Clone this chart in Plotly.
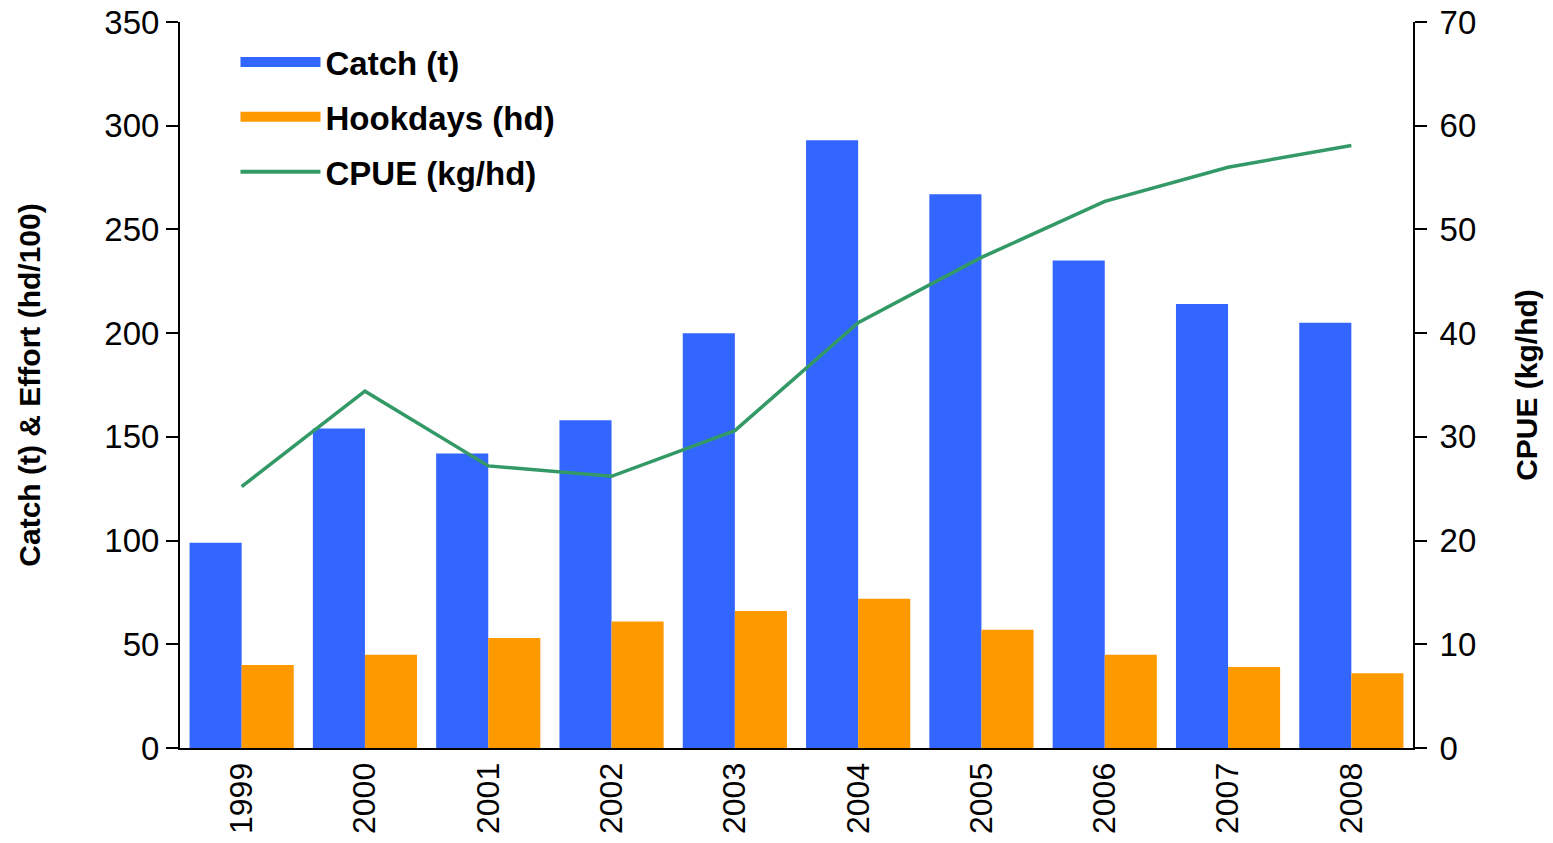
import plotly.graph_objects as go

years = ["1999", "2000", "2001", "2002", "2003", "2004", "2005", "2006", "2007", "2008"]
catch_t = [99, 154, 142, 158, 200, 293, 267, 235, 214, 205]
hookdays = [40, 45, 53, 61, 66, 72, 57, 45, 39, 36]
cpue = [25.2, 34.4, 27.2, 26.2, 30.6, 41.0, 47.3, 52.7, 56.0, 58.1]

FONT = "Liberation Sans, Arial, sans-serif"
C_CATCH = "#3366FF"
C_HOOK = "#FF9900"
C_CPUE = "#339966"

fig = go.Figure()
fig.add_trace(go.Bar(x=years, y=catch_t, name="Catch (t)", showlegend=False,
                     marker=dict(color=C_CATCH, line=dict(width=0))))
fig.add_trace(go.Bar(x=years, y=hookdays, name="Hookdays (hd)", showlegend=False,
                     marker=dict(color=C_HOOK, line=dict(width=0))))
fig.add_trace(go.Scatter(x=years, y=cpue, name="CPUE (kg/hd)", mode="lines", showlegend=False,
                         line=dict(color=C_CPUE, width=3.5), yaxis="y2"))

# legend entries (wide rectangles like the original)
fig.add_trace(go.Scatter(x=[None], y=[None], mode="lines", name="Catch (t)", legendgroup="a",
                         line=dict(color=C_CATCH, width=24)))
fig.add_trace(go.Scatter(x=[None], y=[None], mode="lines", name="Hookdays (hd)", legendgroup="b",
                         line=dict(color=C_HOOK, width=24)))
fig.add_trace(go.Scatter(x=[None], y=[None], mode="lines", name="CPUE (kg/hd)", legendgroup="c",
                         line=dict(color=C_CPUE, width=4)))

fig.update_layout(
    width=1553, height=843,
    margin=dict(l=180, r=140, t=22, b=95),
    plot_bgcolor="white", paper_bgcolor="white",
    font=dict(family=FONT, size=33, color="black"),
    barmode="group", bargap=0.155, bargroupgap=0,
    showlegend=True,
    legend=dict(x=0.045, y=0.9835, xanchor="left", yanchor="top",
                bgcolor="rgba(0,0,0,0)", font=dict(family=FONT, size=33, color="black", weight="bold"),
                tracegroupgap=9, itemwidth=80),
    xaxis=dict(type="category", showline=True, linecolor="black", linewidth=2, automargin=False,
               ticks="", tickangle=-90, tickfont=dict(size=32), showgrid=False),
    yaxis=dict(range=[0, 350], dtick=50, showline=True, linecolor="black", linewidth=2, automargin=False,
               ticks="outside", ticklen=12, tickwidth=2, tickcolor="black", showgrid=False, zeroline=False,
               ticklabeloverflow="allow",
               title=dict(text="Catch (t) & Effort (hd/100)", font=dict(size=30, weight="bold"), standoff=55),
               tickfont=dict(size=33)),
    yaxis2=dict(range=[0, 70], dtick=10, overlaying="y", side="right", showline=True, linecolor="black",
                linewidth=2, ticks="outside", ticklen=12, tickwidth=2, tickcolor="black", showgrid=False,
                zeroline=False, automargin=False, ticklabeloverflow="allow", ticklabelstandoff=6,
                title=dict(text="CPUE (kg/hd)", font=dict(size=30, weight="bold"), standoff=41),
                tickfont=dict(size=33)),
)

fig.write_html("out.html", config={"displayModeBar": False},
               post_script="document.body.style.margin='0';")
